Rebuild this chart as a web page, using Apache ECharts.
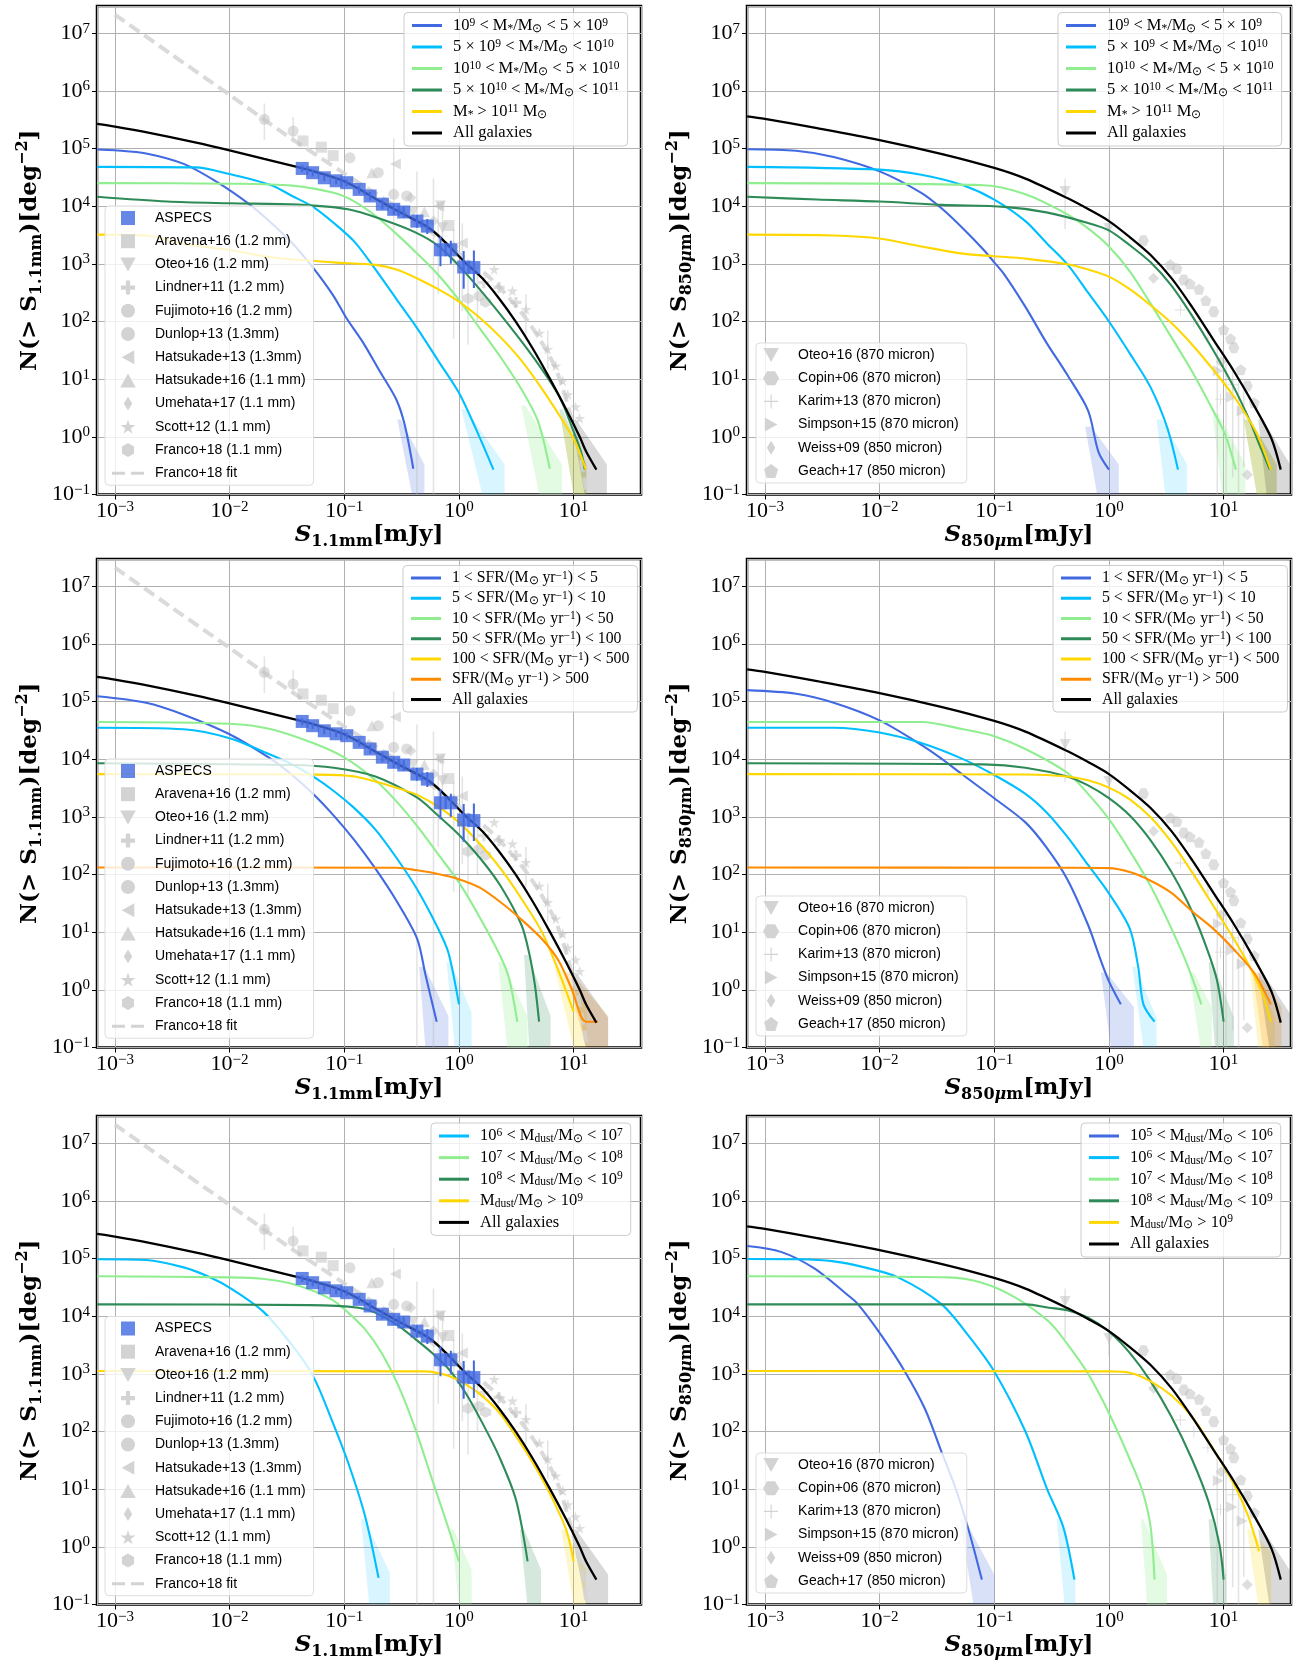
<!DOCTYPE html>
<html><head><meta charset="utf-8">
<script src="https://cdn.jsdelivr.net/npm/echarts@6.0.0/dist/echarts.min.js"></script>
<style>html,body{margin:0;padding:0;background:#fff}#c{width:1301px;height:1664px}</style>
</head><body><div id="c"></div>
<script>
// ---------------- tick labels (powers of ten) ----------------
const xTickExp = [-3, -2, -1, 0, 1];
const yTickExp = [-1, 0, 1, 2, 3, 4, 5, 6, 7];

// ---------------- "All galaxies" model curves ----------------
const allGal_1mm = [[7e-4,2.67e5],[1e-3,2.4e5],[2e-3,1.87e5],[5e-3,1.28e5],[1e-2,9.3e4],[2e-2,6.6e4],[3.7e-2,4.9e4],[5e-2,4.2e4],[0.1,2.7e4],[0.2,1.25e4],[0.3,8e3],[0.58,3.86e3],[1.14,1.04e3],[1.6,560],[2.24,250],[3.14,98],[4.4,34],[6.15,10.5],[8.6,3.0],[11.3,1.0],[12.9,0.55],[15.8,0.27]];
const allGal_850 = [[7e-4,3.6e5],[1e-3,3.25e5],[2.85e-3,2.25e5],[1e-2,1.4e5],[0.0351,8e4],[0.1,4.6e4],[0.187,3e4],[0.433,1.38e4],[0.658,8.9e3],[1,5.5e3],[1.52,2.9e3],[2.31,1.42e3],[3.51,564],[5.3,179],[8.1,49],[12.3,13.7],[18.7,3.3],[26.2,0.92],[31.5,0.27]];

// ---------------- stellar-mass bins, 1.1 mm ----------------
const mass1mm_1 = [[7e-4,9.6e4],[1e-3,9.3e4],[1.87e-3,8.2e4],[3.98e-3,5.4e4],[7.8e-3,2.6e4],[0.0152,1.04e4],[0.0231,5.1e3],[0.0351,2.3e3],[0.0534,855],[0.081,273],[0.104,116],[0.146,43],[0.204,13.7],[0.285,4.4],[0.337,1.6],[0.40,0.28]];
const mass1mm_2 = [[7e-4,4.8e4],[5e-3,4.7e4],[1e-2,3.6e4],[0.0231,2.3e4],[0.0351,1.5e4],[0.0534,9.7e3],[0.081,5.1e3],[0.123,2.4e3],[0.187,800],[0.285,245],[0.433,76],[0.658,21],[1.0,5.8],[1.40,1.4],[2.0,0.27]];
const mass1mm_3 = [[7e-4,2.5e4],[1e-2,2.45e4],[0.0351,2.27e4],[0.081,1.7e4],[0.123,1.2e4],[0.187,6.8e3],[0.285,3.3e3],[0.433,1.5e3],[0.658,645],[1.0,237],[1.52,76],[2.31,24],[3.51,6.7],[4.9,1.86],[6.2,0.28]];
const mass1mm_4 = [[7e-4,1.45e4],[2.85e-3,1.2e4],[1e-2,1.12e4],[0.0395,1.06e4],[0.108,8.8e3],[0.212,5.9e3],[0.417,3.5e3],[0.668,2.0e3],[1.14,697],[2.24,141],[4.4,24.8],[7.5,5.0],[9.9,1.3],[11.7,0.52],[12.5,0.27]];
const mass1mm_5 = [[7e-4,3.2e3],[1.87e-3,3.1e3],[3.98e-3,2.2e3],[1e-2,1.74e3],[0.0231,1.3e3],[0.081,1.06e3],[0.187,957],[0.285,793],[0.433,556],[0.658,363],[1,221],[1.52,116],[2.31,53],[3.51,21],[5.3,6.8],[8.1,1.86],[10.4,0.79],[12.8,0.27]];

// ---------------- stellar-mass bins, 850 micron ----------------
const mass850_1 = [[7e-4,9.7e4],[1.87e-3,9.1e4],[3.98e-3,7.1e4],[1e-2,4e4],[0.0231,1.7e4],[0.0351,9e3],[0.0534,4.1e3],[0.081,1.74e3],[0.1,1.06e3],[0.123,645],[0.187,179],[0.285,43],[0.433,11.9],[0.658,2.85],[0.81,0.55],[1.0,0.27]];
const mass850_2 = [[7e-4,4.8e4],[1e-2,4.3e4],[0.0231,3.5e4],[0.0534,2.3e4],[0.1,1.3e4],[0.187,5.5e3],[0.285,2.3e3],[0.433,985],[0.658,316],[1,100],[1.52,28],[2.31,7.2],[3.24,1.4],[4.0,0.27]];
const mass850_3 = [[7e-4,2.5e4],[0.081,2.3e4],[0.187,1.6e4],[0.433,7.2e3],[0.658,4.1e3],[1,2e3],[1.52,742],[2.31,204],[3.51,53],[5.3,13.7],[8.1,2.85],[10.4,1.05],[12.8,0.27]];
const mass850_4 = [[7e-4,1.45e4],[2.85e-3,1.3e4],[1e-2,1.2e4],[0.0351,1.05e4],[0.123,9.7e3],[0.285,7.8e3],[0.658,5.1e3],[1,3.8e3],[1.52,2.1e3],[2.31,1.06e3],[3.51,417],[5.3,126],[8.1,32],[12.3,7.2],[17,1.86],[20.2,0.79],[25.3,0.27]];
const mass850_5 = [[7e-4,3.2e3],[3.98e-3,3.1e3],[1e-2,2.75e3],[0.0231,2e3],[0.0534,1.5e3],[0.1,1.35e3],[0.187,1.23e3],[0.433,985],[0.658,800],[1,600],[1.52,363],[2.31,191],[3.51,94],[5.3,40],[8.1,14.7],[12.3,5.0],[17,1.86],[20.2,0.98],[25.8,0.27]];

// ---------------- SFR bins, 1.1 mm ----------------
const sfr1mm_1 = [[7e-4,1.23e5],[1.87e-3,9.5e4],[3.98e-3,5.9e4],[1e-2,2.7e4],[0.0231,1e4],[0.0351,5.3e3],[0.0534,2.5e3],[0.081,1.05e3],[0.123,390],[0.187,126],[0.285,35],[0.433,7.6],[0.51,1.85],[0.64,0.28]];
const sfr1mm_2 = [[7e-4,3.5e4],[3.98e-3,3.3e4],[1e-2,2.3e4],[0.0231,1.18e4],[0.0351,8.1e3],[0.0534,5e3],[0.081,2.8e3],[0.123,1.4e3],[0.187,600],[0.285,195],[0.433,55],[0.658,11.6],[0.81,4.4],[1.0,0.56]];
const sfr1mm_3 = [[7e-4,4.4e4],[1e-2,4.1e4],[0.0231,3.3e4],[0.0534,1.9e4],[0.1,1.07e4],[0.187,4.3e3],[0.285,1.85e3],[0.433,690],[0.658,225],[1,73],[1.52,18],[2.31,3.75],[2.73,1.6],[3.23,0.28]];
const sfr1mm_4 = [[7e-4,8.5e3],[0.0351,7.9e3],[0.081,7.1e3],[0.187,5e3],[0.433,2.15e3],[0.658,1.05e3],[1,490],[1.52,195],[2.31,63],[3.51,13.3],[4.1,4.3],[4.6,1.2],[5.0,0.28]];
const sfr1mm_5 = [[7e-4,5.5e3],[0.0534,5.4e3],[0.123,5e3],[0.285,3.2e3],[0.433,2.4e3],[0.658,1.5e3],[1,800],[1.52,340],[2.31,126],[3.51,38],[5.3,10],[7.4,2.1],[10,0.42]];
const sfr1mm_6 = [[7e-4,132],[0.285,131],[0.433,118],[0.658,102],[1,83],[1.52,59],[2.31,33],[3.51,16.5],[5.3,7.6],[7.4,3.2],[9.6,1.05],[12.8,0.28],[16.3,0.28]];

// ---------------- SFR bins, 850 micron ----------------
const sfr850_1 = [[7e-4,1.57e5],[1.87e-3,1.36e5],[3.98e-3,9.5e4],[1e-2,4.7e4],[0.0231,1.77e4],[0.0351,1e4],[0.0534,5.3e3],[0.1,2.1e3],[0.187,800],[0.285,295],[0.433,83],[0.658,13.3],[0.846,3.3],[1.0,1.4],[1.27,0.56]];
const sfr850_2 = [[7e-4,3.5e4],[3.98e-3,3.5e4],[1e-2,2.9e4],[0.0231,1.9e4],[0.0534,1e4],[0.1,5.3e3],[0.187,2.5e3],[0.285,1.2e3],[0.433,452],[0.658,146],[1,47],[1.52,11.5],[1.8,2.5],[2.0,0.56],[2.5,0.28]];
const sfr850_3 = [[7e-4,4.4e4],[0.0231,4.4e4],[0.0534,3.3e4],[0.1,2.5e4],[0.187,1.5e4],[0.433,5.8e3],[0.658,2.5e3],[1,910],[1.52,257],[2.31,63],[3.51,11.5],[4.9,2.5],[6.4,0.56]];
const sfr850_4 = [[7e-4,8.5e3],[0.081,8.1e3],[0.187,7.1e3],[0.433,5e3],[0.658,3.5e3],[1,2.1e3],[1.52,1.05e3],[2.31,390],[3.51,110],[5.3,23],[7.4,4.3],[8.8,1.4],[10,0.28]];
const sfr850_5 = [[7e-4,5.5e3],[0.187,5.4e3],[0.433,5e3],[0.658,4.3e3],[1,3.2e3],[1.52,2e3],[2.31,980],[3.51,363],[5.3,110],[8.1,29],[12.3,7.6],[17,2.45],[22,0.81],[25.8,0.28]];
const sfr850_6 = [[7e-4,132],[0.433,131],[1,129],[1.52,110],[2.31,78],[3.51,48],[5.3,23],[8.1,11.5],[12.3,5],[18.7,1.9],[25.8,0.56]];

// ---------------- dust-mass bins, 1.1 mm ----------------
const dust1mm_2 = [[7e-4,9.7e4],[1.87e-3,9.4e4],[3.98e-3,7.0e4],[6.6e-3,4.8e4],[0.0103,3.0e4],[0.0201,1.15e4],[0.0395,2.3e3],[0.0553,800],[0.0774,162],[0.108,29],[0.152,3.4],[0.199,0.29]];
const dust1mm_3 = [[7e-4,4.9e4],[0.01,4.7e4],[0.0201,4.4e4],[0.0395,3.4e4],[0.0774,1.95e4],[0.108,1.15e4],[0.152,5.9e3],[0.212,2.3e3],[0.297,617],[0.417,110],[0.583,14.8],[0.817,2.0],[1.0,0.56]];
const dust1mm_4 = [[7e-4,1.6e4],[0.05,1.55e4],[0.133,1.4e4],[0.186,1.15e4],[0.297,6.8e3],[0.417,4e3],[0.583,2.3e3],[0.817,1.2e3],[1.14,470],[1.6,141],[2.24,37],[3.14,6.6],[3.97,0.56]];
const dust1mm_5 = [[7e-4,1.12e3],[0.5,1.1e3],[0.817,920],[1.14,660],[1.6,410],[2.24,214],[3.14,83],[4.4,29],[6.15,8.7],[8.6,2.0],[10,0.56]];

// ---------------- dust-mass bins, 850 micron ----------------
const dust850_1 = [[7e-4,1.64e5],[1.38e-3,1.3e5],[2.7e-3,6.7e4],[5.3e-3,2.3e4],[6.5e-3,1.6e4],[0.0104,4.6e3],[0.0166,1.1e3],[0.0249,245],[0.0348,43.5],[0.0455,11],[0.0596,2.0],[0.078,0.27]];
const dust850_2 = [[7e-4,9.8e4],[2e-3,9.7e4],[4e-3,8.9e4],[7.4e-3,7e4],[0.0145,4.7e4],[0.0348,1.6e4],[0.06,4.5e3],[0.1,1.1e3],[0.187,100],[0.289,10],[0.4,2.2],[0.5,0.27]];
const dust850_3 = [[7e-4,4.9e4],[0.04,4.7e4],[0.078,3.8e4],[0.153,2.1e4],[0.3,8e3],[0.433,3.3e3],[0.658,1.0e3],[1,209],[1.52,33],[1.96,9.3],[2.31,2.2],[2.5,0.27]];
const dust850_4 = [[7e-4,1.6e4],[0.19,1.6e4],[0.3,1.4e4],[0.433,1.26e4],[0.658,9.4e3],[1,5.4e3],[1.52,2.3e3],[2.31,740],[3.51,180],[5.3,33],[7.4,6],[9.2,1.1],[10,0.27]];
const dust850_5 = [[7e-4,1.12e3],[1,1.1e3],[1.52,1.04e3],[2.31,740],[3.51,420],[5.3,180],[8.1,50],[12.3,12.3],[16.3,3.5],[20.4,0.84]];

// ---------------- uncertainty bands (polygon vertices) ----------------
const bandsTL = [[[0.31,2.0],[0.50,0.33],[0.50,0.1],[0.39,0.1],[0.29,2.0]], [[1.15,3.0],[2.5,0.33],[2.5,0.1],[1.6,0.1],[1.05,3.0]], [[3.8,3.5],[7.9,0.33],[7.9,0.1],[5.0,0.1],[3.5,3.5]], [[8,3],[12.9,0.33],[12.9,0.1],[10,0.1],[7.5,3]], [[8.5,2],[12.9,0.35],[12.9,0.1],[10,0.1],[7.8,2]], [[10.5,2],[19.5,0.33],[19.5,0.1],[12.5,0.1],[9.5,2]]];
const bandsTR = [[[0.7,1.5],[1.22,0.33],[1.22,0.1],[0.79,0.1],[0.62,1.5]], [[2.9,2],[4.8,0.33],[4.8,0.1],[3.1,0.1],[2.6,2]], [[9,2.5],[15.5,0.33],[15.5,0.1],[9.7,0.1],[8,2.5]], [[17,2],[29,0.33],[29,0.1],[19.5,0.1],[15,2]], [[17,2],[29,0.33],[29,0.1],[19.5,0.1],[15,2]], [[22,2],[38,0.33],[38,0.1],[23.7,0.1],[20,2]]];
const bandsML = [[[0.5,2.5],[0.81,0.35],[0.81,0.1],[0.51,0.1],[0.45,2.5]], [[0.85,3],[1.29,0.4],[1.29,0.1],[0.92,0.1],[0.78,3]], [[2.4,3],[3.95,0.35],[3.95,0.1],[2.64,0.1],[2.2,3]], [[4.0,4],[6.3,0.35],[6.3,0.1],[4.1,0.1],[3.7,4]], [[7.5,2.5],[13,0.5],[13,0.1],[10,0.1],[6.8,2.5]], [[9.5,2],[20,0.35],[20,0.1],[12.8,0.1],[8.5,2]], [[10.5,2],[20,0.33],[20,0.1],[12.8,0.1],[9.5,2]]];
const bandsMR = [[[0.95,2],[1.65,0.5],[1.65,0.1],[1.04,0.1],[0.85,2]], [[1.7,2.5],[2.6,0.33],[2.6,0.1],[2.0,0.1],[1.6,2.5]], [[5.5,2],[7.9,0.5],[7.9,0.1],[6.3,0.1],[5,2]], [[8,3],[12.3,0.33],[12.3,0.1],[8.4,0.1],[7.4,3]], [[19,2],[28,0.33],[28,0.1],[20,0.1],[17,2]], [[20,2],[32,0.5],[32,0.1],[22,0.1],[18,2]], [[22,2],[40,0.33],[40,0.1],[25,0.1],[20,2]]];
const bandsBL = [[[0.15,3],[0.25,0.35],[0.25,0.1],[0.165,0.1],[0.14,3]], [[0.9,2],[1.29,0.4],[1.29,0.1],[1.0,0.1],[0.85,2]], [[3.7,2],[5.2,0.4],[5.2,0.1],[3.95,0.1],[3.4,2]], [[8.5,2],[12.8,0.4],[12.8,0.1],[10,0.1],[7.8,2]], [[10.5,2],[20,0.33],[20,0.1],[12.8,0.1],[9.5,2]]];
const bandsBR = [[[0.055,3],[0.1,0.33],[0.1,0.1],[0.066,0.1],[0.05,3]], [[0.38,3],[0.51,0.33],[0.51,0.1],[0.41,0.1],[0.35,3]], [[2.0,3],[3.2,0.33],[3.2,0.1],[2.15,0.1],[1.9,3]], [[8,3],[10.5,0.33],[10.5,0.1],[8.1,0.1],[7.4,3]], [[17,2],[26,0.8],[26,0.1],[20,0.1],[16,2]], [[22,2],[40,0.33],[40,0.1],[25,0.1],[20,2]]];

// ---------------- ASPECS counts ----------------
const aspecsX  = [0.043,0.053,0.067,0.085,0.105,0.135,0.168,0.215,0.27,0.33,0.43,0.53,0.69,0.85,1.1,1.35];
const aspecsY  = [4.5e4,3.8e4,3.1e4,2.75e4,2.55e4,1.95e4,1.5e4,1.08e4,8.8e3,7.9e3,5.5e3,4.5e3,1.75e3,1.75e3,880,860];
const aspecsLo = [3.9e4,3.3e4,2.7e4,2.4e4,2.2e4,1.65e4,1.25e4,8.8e3,7.0e3,6.2e3,4.2e3,3.3e3,910,1.0e3,370,380];
const aspecsHi = [5.1e4,4.3e4,3.5e4,3.1e4,2.9e4,2.25e4,1.75e4,1.3e4,1.08e4,9.8e3,7.0e3,6.0e3,3.0e3,2.5e3,1.66e3,1.7e3];

// ---------------- literature counts (1.1-1.3 mm) ----------------
const aravena16 = [[0.0437,1.35e5],[0.0631,1.05e5],[0.08,7.5e4],[0.817,4.6e3]];
const oteo16mm  = [[0.69,1.0e4],[0.72,4.2e3],[0.4,8e3]];
const lindner11 = [[1.65,470],[2.24,390],[3.14,214]];
const fujimoto16 = [[0.112,6.9e4],[0.198,3.8e4],[0.27,1.6e4],[0.35,1.5e4]];
const dunlop13 = [[0.0201,3.2e5],[0.0358,2.0e5]];
const hatsukade13 = [[0.279,5.4e4],[0.667,1.0e4],[1.07,2.3e3]];
const hatsukade16 = [[0.174,3.8e4],[0.5,8e3]];
const umehata17 = [[0.38,1.4e4],[0.6,5.5e3],[0.9,2.0e3]];
const scott12 = [[2.03,800],[2.93,340],[3.84,162],[5.03,63],[5.95,33],[7.0,17],[8.05,9.4],[8.9,5.4],[10.4,3.3],[11.3,2.1]];
const franco18 = [[1.2,250],[1.5,275],[1.71,215]];
const franco18fit = [[1e-3,2.1e7],[3e-3,4.5e6],[1e-2,8.5e5],[3e-2,1.8e5],[0.1,3.7e4],[0.3,9e3],[1,1.5e3],[2,500],[4,100],[7,15],[10,1.5],[12,0.3],[13,0.1]];
const litErrLeft = [[0.0201,1.4e5,6e5],[0.0358,1.3e5,3.5e5],[0.27,1e3,1.5e5],[0.43,0.1,4e4],[0.6,0.1,3e4],[0.66,300,1.2e4],[0.72,2e3,1e4],[0.9,50,4e3],[1.07,150,5e3],[1.2,40,1.2e3],[1.45,100,700],[3.84,60,300],[5.95,15,70]];

// ---------------- literature counts (850-870 micron) ----------------
const oteo16sub = [[0.415,1.8e4],[1.0,4.1e3]];
const copin06 = [[2.0,2.5e3],[4.5,525],[8.2,148],[12.3,35],[16.1,7.6]];
const karim13 = [[4.2,158],[5.5,100],[7.3,52],[9.4,4.5],[12,8]];
const simpson15 = [[9.0,14],[11.8,4.9],[14.5,2.8]];
const weiss09 = [[2.45,560],[9.5,20],[16.1,0.22]];
const geach17 = [[3.43,960],[3.92,830],[5.1,450],[6.1,363],[7.0,230],[10,72],[11.5,50],[14.1,14.5],[18.5,3.9]];
const litErrRight = [[0.415,4e3,3e4],[1.0,2e3,8e3],[8.8,0.1,40],[10.5,0.1,25],[12,0.2,15],[13.5,0.1,10],[15,0.3,8]];

// ---------------- legend texts ----------------
const massLabels = ['10{sp|9} < M{sb|*}/M{sb|⊙} < 5 × 10{sp|9}', '5 × 10{sp|9} < M{sb|*}/M{sb|⊙} < 10{sp|10}', '10{sp|10} < M{sb|*}/M{sb|⊙} < 5 × 10{sp|10}', '5 × 10{sp|10} < M{sb|*}/M{sb|⊙} < 10{sp|11}', 'M{sb|*} > 10{sp|11} M{sb|⊙}', 'All galaxies'];
const sfrLabels = ['1 < SFR/(M{sb|⊙} yr{sp|−1}) < 5', '5 < SFR/(M{sb|⊙} yr{sp|−1}) < 10', '10 < SFR/(M{sb|⊙} yr{sp|−1}) < 50', '50 < SFR/(M{sb|⊙} yr{sp|−1}) < 100', '100 < SFR/(M{sb|⊙} yr{sp|−1}) < 500', 'SFR/(M{sb|⊙} yr{sp|−1}) > 500', 'All galaxies'];
const dustLabelsL = ['10{sp|6} < M{sb|dust}/M{sb|⊙} < 10{sp|7}', '10{sp|7} < M{sb|dust}/M{sb|⊙} < 10{sp|8}', '10{sp|8} < M{sb|dust}/M{sb|⊙} < 10{sp|9}', 'M{sb|dust}/M{sb|⊙} > 10{sp|9}', 'All galaxies'];
const dustLabelsR = ['10{sp|5} < M{sb|dust}/M{sb|⊙} < 10{sp|6}', '10{sp|6} < M{sb|dust}/M{sb|⊙} < 10{sp|7}', '10{sp|7} < M{sb|dust}/M{sb|⊙} < 10{sp|8}', '10{sp|8} < M{sb|dust}/M{sb|⊙} < 10{sp|9}', 'M{sb|dust}/M{sb|⊙} > 10{sp|9}', 'All galaxies'];

// ================= styling & layout (not data) =================
const COL = {blue:'#4169e1', cyan:'#00bfff', lgreen:'#90ee90', dgreen:'#2e8b57', yellow:'#ffd700', orange:'#ff8c00', black:'#000000'};
const BANDCOL = {blue:'rgba(65,105,225,0.2)', cyan:'rgba(0,191,255,0.15)', lgreen:'rgba(144,238,144,0.25)', dgreen:'rgba(46,139,87,0.2)', yellow:'rgba(255,215,0,0.2)', orange:'rgba(255,140,0,0.2)', black:'rgba(0,0,0,0.15)'};
const GREY = '#bdbdbd', GREY_LEG = '#d3d3d3';
const SYM = {
  sq: 'path://M0,0h10v10h-10z',
  triD: 'path://M0,0L10,0L5,9z',
  plus: 'path://M3.5,0h3v3.5h3.5v3h-3.5v3.5h-3v-3.5h-3.5v-3h3.5z',
  circ: 'path://M5,0A5,5,0,1,1,5,10A5,5,0,1,1,5,0z',
  triL: 'path://M0,5L9,0L9,10z',
  triU: 'path://M5,0L10,9L0,9z',
  triR: 'path://M0,0L9,5L0,10z',
  dia: 'path://M3,0L6,5L3,10L0,5z',
  star: 'path://M5,0L6.2,3.6L10,3.6L6.9,5.9L8.1,9.5L5,7.3L1.9,9.5L3.1,5.9L0,3.6L3.8,3.6z',
  hex: 'path://M5,0L9.33,2.5L9.33,7.5L5,10L0.67,7.5L0.67,2.5z',
  hex2: 'path://M2.5,0.67L7.5,0.67L10,5L7.5,9.33L2.5,9.33L0,5z',
  pent: 'path://M5,0L10,3.8L8.1,10L1.9,10L0,3.8z',
  thinPlus: 'path://M4.6,0h0.8v4.6h4.6v0.8h-4.6v4.6h-0.8v-4.6h-4.6v-0.8h4.6z',
  dash: 'path://M0,0h13v3h-13zM19,0h13v3h-13z',
  line: 'path://M0,0h30v3h-30z'
};

const litLeft = [
  ['Aravena+16 (1.2 mm)', aravena16, SYM.sq],
  ['Oteo+16 (1.2 mm)', oteo16mm, SYM.triD],
  ['Lindner+11 (1.2 mm)', lindner11, SYM.plus],
  ['Fujimoto+16 (1.2 mm)', fujimoto16, SYM.circ],
  ['Dunlop+13 (1.3mm)', dunlop13, SYM.circ],
  ['Hatsukade+13 (1.3mm)', hatsukade13, SYM.triL],
  ['Hatsukade+16 (1.1 mm)', hatsukade16, SYM.triU],
  ['Umehata+17 (1.1 mm)', umehata17, SYM.dia],
  ['Scott+12 (1.1 mm)', scott12, SYM.star],
  ['Franco+18 (1.1 mm)', franco18, SYM.hex]
];
const litRight = [
  ['Oteo+16 (870 micron)', oteo16sub, SYM.triD],
  ['Copin+06 (870 micron)', copin06, SYM.hex2],
  ['Karim+13 (870 micron)', karim13, SYM.thinPlus],
  ['Simpson+15 (870 micron)', simpson15, SYM.triR],
  ['Weiss+09 (850 micron)', weiss09, SYM.dia],
  ['Geach+17 (850 micron)', geach17, SYM.pent]
];

const panels = [
  {key:'TL', col:0, row:0, wave:'1mm', curves:[[mass1mm_1,'blue'],[mass1mm_2,'cyan'],[mass1mm_3,'lgreen'],[mass1mm_4,'dgreen'],[mass1mm_5,'yellow'],[allGal_1mm,'black']], bands:bandsTL, labels:massLabels, leg:{left:404, top:12.5, lh:18, gap:3.5, fs:16.5}, mleg:{left:105, top:206}},
  {key:'TR', col:1, row:0, wave:'850', curves:[[mass850_1,'blue'],[mass850_2,'cyan'],[mass850_3,'lgreen'],[mass850_4,'dgreen'],[mass850_5,'yellow'],[allGal_850,'black']], bands:bandsTR, labels:massLabels, leg:{left:1058, top:12.5, lh:18, gap:3.5, fs:16.5}, mleg:{left:756, top:343}},
  {key:'ML', col:0, row:1, wave:'1mm', curves:[[sfr1mm_1,'blue'],[sfr1mm_2,'cyan'],[sfr1mm_3,'lgreen'],[sfr1mm_4,'dgreen'],[sfr1mm_5,'yellow'],[sfr1mm_6,'orange'],[allGal_1mm,'black']], bands:bandsML, labels:sfrLabels, leg:{left:403, top:565.5, lh:17, gap:3.25, fs:15.8}, mleg:{left:105, top:759}},
  {key:'MR', col:1, row:1, wave:'850', curves:[[sfr850_1,'blue'],[sfr850_2,'cyan'],[sfr850_3,'lgreen'],[sfr850_4,'dgreen'],[sfr850_5,'yellow'],[sfr850_6,'orange'],[allGal_850,'black']], bands:bandsMR, labels:sfrLabels, leg:{left:1053, top:565.5, lh:17, gap:3.25, fs:15.8}, mleg:{left:756, top:896}},
  {key:'BL', col:0, row:2, wave:'1mm', curves:[[dust1mm_2,'cyan'],[dust1mm_3,'lgreen'],[dust1mm_4,'dgreen'],[dust1mm_5,'yellow'],[allGal_1mm,'black']], bands:bandsBL, labels:dustLabelsL, leg:{left:431, top:1123, lh:18, gap:3.6, fs:16.5}, mleg:{left:105, top:1316.5}},
  {key:'BR', col:1, row:2, wave:'850', curves:[[dust850_1,'blue'],[dust850_2,'cyan'],[dust850_3,'lgreen'],[dust850_4,'dgreen'],[dust850_5,'yellow'],[allGal_850,'black']], bands:bandsBR, labels:dustLabelsR, leg:{left:1081, top:1123, lh:18, gap:3.6, fs:16.5}, mleg:{left:756, top:1453}}
];

const GRID_L = [97, 747], GRID_W = 544, GRID_T = [6, 559, 1116], GRID_H = 488.5;
const XMIN = 6.98e-4, XMAX = 38.7, YMIN = 0.1, YMAX = 2.95e7;
const SERIF = 'Liberation Serif', BSERIF = 'DejaVu Serif', SANS = 'Liberation Sans';

function powLabel(allowed) {
  return function (v) {
    const e = Math.log10(v), r = Math.round(e);
    if (Math.abs(e - r) > 1e-6 || allowed.indexOf(r) < 0) return '';
    return '{b|10}{s|' + (r < 0 ? '−' + (-r) : String(r)) + '}';
  };
}
const tickRich = {
  b: {fontFamily: SERIF, fontSize: 22, lineHeight: 24, color: '#000'},
  s: {fontFamily: SERIF, fontSize: 15, lineHeight: 10, verticalAlign: 'top', color: '#000'}
};
const titleRich = {
  b: {fontFamily: BSERIF, fontWeight: 'bold', fontSize: 23, lineHeight: 30, color: '#000'},
  bi: {fontFamily: BSERIF, fontWeight: 'bold', fontStyle: 'italic', fontSize: 23, lineHeight: 30, color: '#000'},
  sub: {fontFamily: BSERIF, fontWeight: 'bold', fontSize: 16, lineHeight: 14, verticalAlign: 'bottom', color: '#000'},
  subi: {fontFamily: BSERIF, fontWeight: 'bold', fontStyle: 'italic', fontSize: 16, lineHeight: 14, verticalAlign: 'bottom', color: '#000'},
  sup: {fontFamily: BSERIF, fontWeight: 'bold', fontSize: 16, lineHeight: 12, verticalAlign: 'top', color: '#000'}
};

function errSeries(i, rows, color, width, z) {
  return {type: 'custom', xAxisIndex: i, yAxisIndex: i, data: rows, encode: {x: 0, y: [1, 2]}, z: z, silent: true, clip: true,
    renderItem: (params, api) => {
      const a = api.coord([api.value(0), api.value(1)]);
      const b = api.coord([api.value(0), api.value(2)]);
      return {type: 'line', shape: {x1: a[0], y1: a[1], x2: b[0], y2: b[1]}, style: {stroke: color, lineWidth: width}};
    }};
}

const nameMap = {};
const option = {backgroundColor: '#ffffff', animation: false, grid: [], xAxis: [], yAxis: [], series: [], legend: []};

panels.forEach((p, i) => {
  const is1mm = p.wave === '1mm';
  option.grid.push({left: GRID_L[p.col], top: GRID_T[p.row], width: GRID_W, height: GRID_H, show: true,
    borderColor: '#000', borderWidth: 2.5, backgroundColor: 'transparent', containLabel: false, outerBoundsMode: 'none'});
  option.xAxis.push({type: 'log', logBase: 10, gridIndex: i, min: XMIN, max: XMAX, splitNumber: 5,
    axisLine: {show: false}, axisTick: {show: true, length: 5, lineStyle: {color: '#000', width: 1}},
    axisLabel: {formatter: powLabel(xTickExp), showMinLabel: false, showMaxLabel: false, margin: 5, rich: tickRich, color: '#000'},
    splitLine: {show: true, lineStyle: {color: '#b0b0b0', width: 1}},
    name: is1mm ? '{bi|S}{sub|1.1mm}{b|[mJy]}' : '{bi|S}{sub|850}{subi|μ}{sub|m}{b|[mJy]}',
    nameLocation: 'middle', nameGap: 22, nameTextStyle: {rich: titleRich}});
  option.yAxis.push({type: 'log', logBase: 10, gridIndex: i, min: YMIN, max: YMAX, splitNumber: 8,
    axisLine: {show: false}, axisTick: {show: true, length: 5, lineStyle: {color: '#000', width: 1}},
    axisLabel: {formatter: powLabel(yTickExp), showMinLabel: true, showMaxLabel: false, margin: 7, rich: tickRich, color: '#000'},
    splitLine: {show: true, lineStyle: {color: '#b0b0b0', width: 1}},
    name: is1mm ? '{b|N(> S}{sub|1.1mm}{b|)[deg}{sup|−2}{b|]}' : '{b|N(> S}{sub|850}{subi|μ}{sub|m}{b|)[deg}{sup|−2}{b|]}',
    nameLocation: 'middle', nameGap: 52, nameTextStyle: {rich: titleRich}});

  // uncertainty bands
  p.bands.forEach((poly, j) => {
    const fill = BANDCOL[p.curves[j][1]];
    option.series.push({type: 'custom', xAxisIndex: i, yAxisIndex: i, data: poly, z: 1, silent: true, clip: true,
      renderItem: (params, api) => {
        if (params.dataIndex !== 0) return null;
        return {type: 'polygon', shape: {points: poly.map(pt => api.coord(pt))}, style: {fill: fill}};
      }});
  });

  // literature data (grey) with faint error bars
  option.series.push(errSeries(i, is1mm ? litErrLeft : litErrRight, 'rgba(185,185,185,0.4)', 1.5, 2));
  const lit = is1mm ? litLeft : litRight;
  const mData = [];
  if (is1mm) {
    const nm = p.key + ':aspecs';
    nameMap[nm] = 'ASPECS';
    mData.push({name: nm, icon: SYM.sq, itemStyle: {color: COL.blue}});
  }
  lit.forEach(([label, pts, sym], k) => {
    const nm = p.key + ':lit' + k;
    nameMap[nm] = label;
    option.series.push({type: 'scatter', name: nm, xAxisIndex: i, yAxisIndex: i, data: pts, symbol: sym, symbolSize: 11,
      itemStyle: {color: GREY, opacity: 0.5}, z: 2, silent: true});
    mData.push({name: nm, icon: sym, itemStyle: {color: GREY_LEG, opacity: 1}});
  });
  if (is1mm) {
    const nm = p.key + ':fit';
    nameMap[nm] = 'Franco+18 fit';
    option.series.push({type: 'line', name: nm, xAxisIndex: i, yAxisIndex: i, data: franco18fit, showSymbol: false, symbol: 'none',
      smooth: 0.3, lineStyle: {color: '#d4d4d4', width: 4, type: [12, 6], opacity: 0.85}, itemStyle: {color: '#d4d4d4'}, z: 2, silent: true});
    mData.push({name: nm, icon: SYM.dash, itemStyle: {color: GREY_LEG, opacity: 1, borderWidth: 0}, lineStyle: {width: 0}});
  }

  // model curves
  const lData = [];
  p.curves.forEach(([pts, c], j) => {
    const nm = p.key + ':c' + j;
    nameMap[nm] = p.labels[j];
    option.series.push({type: 'line', name: nm, xAxisIndex: i, yAxisIndex: i, data: pts, showSymbol: false, symbol: 'none',
      smooth: 0.3, lineStyle: {color: COL[c], width: c === 'black' ? 2.3 : 2.1}, itemStyle: {color: COL[c]}, z: 3, silent: true});
    lData.push({name: nm, icon: SYM.line, itemStyle: {color: COL[c], borderWidth: 0}, lineStyle: {width: 0}});
  });

  // ASPECS points with error bars
  if (is1mm) {
    option.series.push(errSeries(i, aspecsX.map((x, k) => [x, aspecsLo[k], aspecsHi[k]]), COL.blue, 2, 4));
    option.series.push({type: 'scatter', name: p.key + ':aspecs', xAxisIndex: i, yAxisIndex: i,
      data: aspecsX.map((x, k) => [x, aspecsY[k]]), symbol: 'rect', symbolSize: 13, itemStyle: {color: COL.blue}, z: 5, silent: true});
  }

  // legends
  option.legend.push({left: p.leg.left, top: p.leg.top, orient: 'vertical', selectedMode: false, z: 10,
    itemWidth: 30, itemHeight: 12, itemGap: p.leg.gap, padding: [4, 8, 4, 8],
    backgroundColor: 'rgba(255,255,255,0.8)', borderColor: '#cccccc', borderWidth: 1, borderRadius: 4,
    data: lData, formatter: n => nameMap[n],
    textStyle: {fontFamily: SERIF, fontSize: p.leg.fs, lineHeight: p.leg.lh, color: '#000', padding: [0, 0, 0, 6],
      rich: {sp: {fontFamily: SERIF, fontSize: 11.5, lineHeight: 10, verticalAlign: 'top', color: '#000'},
             sb: {fontFamily: SERIF, fontSize: 11.5, lineHeight: 10, verticalAlign: 'bottom', color: '#000'}}}});
  option.legend.push({left: p.mleg.left, top: p.mleg.top, orient: 'vertical', selectedMode: false, z: 10,
    itemWidth: 32, itemHeight: 14, itemGap: 7.2, padding: [4, 8, 4, 7],
    backgroundColor: 'rgba(255,255,255,0.8)', borderColor: '#dddddd', borderWidth: 1, borderRadius: 4,
    data: mData, formatter: n => nameMap[n],
    textStyle: {fontFamily: SANS, fontSize: 14, lineHeight: 16, color: '#000', padding: [0, 0, 0, 6]}});
});

const chart = echarts.init(document.getElementById('c'), null, {renderer: 'canvas'});
chart.setOption(option);
</script></body></html>
